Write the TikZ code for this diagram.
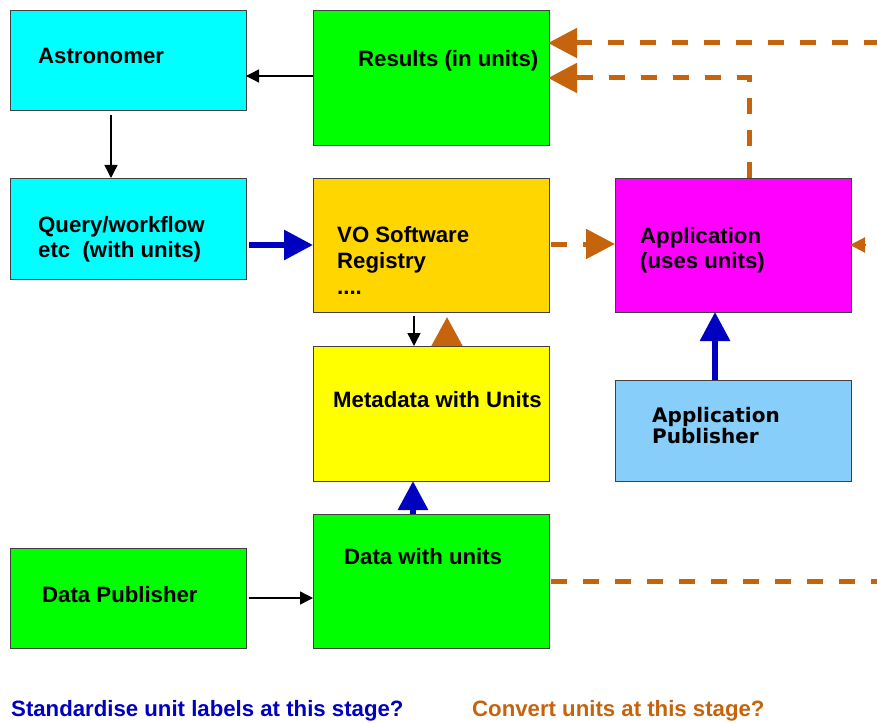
\documentclass[tikz,border=0pt]{standalone}
\usepackage{fontspec}
\setmainfont{Liberation Sans}
\newfontfamily\dejavu{DejaVu Sans}
\usetikzlibrary{arrows.meta}
\definecolor{vorange}{RGB}{198,100,14}
\definecolor{vblue}{RGB}{0,0,192}
\definecolor{vgold}{RGB}{255,214,0}
\definecolor{vsky}{RGB}{135,206,250}
\definecolor{vcyan}{RGB}{0,255,255}
\definecolor{vgreen}{RGB}{0,255,0}
\definecolor{vmag}{RGB}{255,0,255}
\definecolor{vyellow}{RGB}{255,255,0}
\begin{document}
\begin{tikzpicture}[x=1pt,y=-1pt,
  box/.style={draw=black!75, line width=0.9pt, minimum width=236pt, anchor=north west, inner sep=0pt},
  txt/.style={anchor=base west, inner sep=0pt, font=\fontsize{22.2}{26}\selectfont\bfseries},
  dtxt/.style={anchor=base west, inner sep=0pt, font=\fontsize{20}{24}\selectfont\dejavu\bfseries},
  thin/.style={draw=black, line width=1.4pt, -{Triangle[length=13pt,width=13pt]}},
  bluearrow/.style={draw=vblue, line width=6pt, -{Triangle[length=29pt,width=29pt]}},
  orangedash/.style={draw=vorange, line width=5pt, dash pattern=on 16pt off 16pt, -{Triangle[length=29pt,width=29pt]}},
  orangeplain/.style={draw=vorange, line width=5pt, dash pattern=on 16pt off 16pt},
  orangetip/.style={draw=vorange, line width=5pt, -{Triangle[length=29pt,width=30pt]}}
]
\useasboundingbox (0,0) rectangle (877,722);
\clip (0,0) rectangle (877,722);
\fill[white] (0,0) rectangle (877,722);

% boxes
\node[box, fill=vcyan, minimum height=100pt] (astro) at (10,10) {};
\node[box, fill=vgreen, minimum height=135pt] (results) at (313,10) {};
\node[box, fill=vcyan, minimum height=101pt] (query) at (10,178) {};
\node[box, fill=vgold, minimum height=134pt] (vo) at (313,178) {};
\node[box, fill=vmag, minimum height=134pt] (app) at (615,178) {};
\node[box, fill=vyellow, minimum height=135pt] (meta) at (313,346) {};
\node[box, fill=vsky, minimum height=101pt] (apppub) at (615,380) {};
\node[box, fill=vgreen, minimum height=134pt] (data) at (313,514) {};
\node[box, fill=vgreen, minimum height=100pt] (datapub) at (10,548) {};

% texts
\node[txt] (astroT) at (38,64) {Astronomer};
\node[txt] (resultsT) at (358,67) {Results (in units)};
\node[txt] (queryT1) at (38,232) {Query/workflow};
\node[txt] (queryT2) at (38,257) {etc~ (with units)};
\node[txt] (voT1) at (337,242) {VO Software};
\node[txt] (voT2) at (337,268) {Registry};
\node[txt] (voT3) at (337,294) {....};
\node[txt] (appT1) at (640,243) {Application};
\node[txt] (appT2) at (640,268) {(uses units)};
\node[txt] (metaT) at (333,407) {Metadata with Units};
\node[dtxt] (apppubT1) at (652,422) {Application};
\node[dtxt] (apppubT2) at (652,443) {Publisher};
\node[txt] (dataT) at (344,564) {Data with units};
\node[txt] (datapubT) at (42,602) {Data Publisher};
\node[txt, text=vblue] (noteL) at (11,716) {Standardise unit labels at this stage?};
\node[txt, text=vorange] (noteR) at (472,716) {Convert units at this stage?};

% helper coordinates
\coordinate (resA) at (313,76);
\coordinate (astA) at (246,76);
\coordinate (astB) at (111,115);
\coordinate (qryB) at (111,178);
\coordinate (qryR) at (249,245);
\coordinate (voL) at (313,245);
\coordinate (voB) at (414,316);
\coordinate (metaTop) at (414,346);
\coordinate (metaTop2) at (447,346);
\coordinate (voBot2) at (447,317);
\coordinate (dataTop) at (413,514);
\coordinate (metaBot) at (413,481);
\coordinate (dpR) at (249,598);
\coordinate (dataL) at (313,598);
\coordinate (apBot) at (715,380);
\coordinate (appBot) at (715,312);
\coordinate (voR) at (551,244);
\coordinate (appL) at (615,244);
\coordinate (farTop) at (880,43);
\coordinate (resR1) at (548,43);
\coordinate (appTop) at (749,178);
\coordinate (corner) at (749,78);
\coordinate (resR2) at (548,78);
\coordinate (farMid) at (865,245);
\coordinate (appR) at (850,245);
\coordinate (dataR) at (551,581);
\coordinate (farBot) at (890,581);

% connectors
\draw[thin] (resA) -- (astA);
\draw[thin] (astB) -- (qryB);
\draw[thin] (voB) -- (metaTop);
\draw[thin] (dpR) -- (dataL);
\draw[bluearrow] (qryR) -- (voL);
\draw[bluearrow] (dataTop) -- (metaBot);
\draw[bluearrow] (apBot) -- (appBot);
\draw[orangetip] (metaTop2) -- (voBot2);
\draw[orangedash] (voR) -- (appL);
\draw[orangedash] (farTop) -- (resR1);
\draw[orangedash] (appTop) -- (corner) -- (resR2);
\draw[draw=vorange, line width=2pt, -{Triangle[length=15pt,width=15pt]}] (farMid) -- (appR);
\draw[orangeplain] (dataR) -- (farBot);
\end{tikzpicture}
\end{document}
